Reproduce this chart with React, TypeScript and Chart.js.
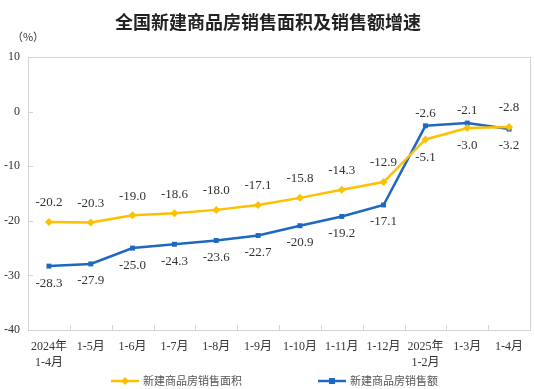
import { useEffect, useRef } from 'react';
import { Chart, registerables } from 'chart.js';

Chart.register(...registerables);

const TITLE = '全国新建商品房销售面积及销售额增速';
const UNIT = '（%）';
const CATEGORIES: (string | string[])[] = [
  ['2024年', '1-4月'], '1-5月', '1-6月', '1-7月', '1-8月', '1-9月',
  '1-10月', '1-11月', '1-12月', ['2025年', '1-2月'], '1-3月', '1-4月',
];
const AREA_NAME = '新建商品房销售面积';
const SALES_NAME = '新建商品房销售额';
const AREA = [-20.2, -20.3, -19.0, -18.6, -18.0, -17.1, -15.8, -14.3, -12.9, -5.1, -3.0, -2.8];
const SALES = [-28.3, -27.9, -25.0, -24.3, -23.6, -22.7, -20.9, -19.2, -17.1, -2.6, -2.1, -3.2];
const AREA_LABEL_SIDE = ['above', 'above', 'above', 'above', 'above', 'above', 'above', 'above', 'above', 'below', 'below', 'above'];
const SALES_LABEL_SIDE = ['below', 'below', 'below', 'below', 'below', 'below', 'below', 'below', 'below', 'above', 'above', 'below'];
const Y_MIN = -40;
const Y_MAX = 10;
const Y_STEP = 10;

const YELLOW = '#FFC000';
const BLUE = '#1F68C2';
const AXIS = '#d4d4d4';
const SERIF = '"Liberation Serif", "Times New Roman", "Noto Sans CJK SC", serif';
const CJK = '"Noto Sans CJK SC", sans-serif';

const decor = {
  id: 'decor',
  beforeDatasetsDraw(chart: any) {
    const { ctx, chartArea: a } = chart;
    ctx.save();
    ctx.strokeStyle = AXIS;
    ctx.lineWidth = 1;
    ctx.strokeRect(Math.round(a.left) + 0.5, Math.round(a.top) + 0.5, Math.round(a.right - a.left), Math.round(a.bottom - a.top));
    const y = chart.scales.y;
    for (let v = Y_MIN; v <= Y_MAX; v += Y_STEP) {
      const py = Math.round(y.getPixelForValue(v)) + 0.5;
      ctx.beginPath();
      ctx.moveTo(a.left, py);
      ctx.lineTo(a.left + 5, py);
      ctx.stroke();
    }
    const n = CATEGORIES.length;
    const w = (a.right - a.left) / n;
    for (let i = 1; i < n; i++) {
      const px = Math.round(a.left + i * w) + 0.5;
      ctx.beginPath();
      ctx.moveTo(px, a.bottom);
      ctx.lineTo(px, a.bottom - 5);
      ctx.stroke();
    }
    ctx.restore();
  },
  afterDraw(chart: any) {
    const { ctx } = chart;
    ctx.save();
    ctx.font = `13px ${SERIF}`;
    ctx.fillStyle = '#333';
    ctx.textAlign = 'center';
    ctx.textBaseline = 'middle';
    const sets = [
      { idx: 0, data: AREA, side: AREA_LABEL_SIDE, up: 19, down: 18 },
      { idx: 1, data: SALES, side: SALES_LABEL_SIDE, up: 12, down: 17 },
    ];
    sets.forEach((s) => {
      const meta = chart.getDatasetMeta(s.idx);
      meta.data.forEach((pt: any, i: number) => {
        const dy = s.side[i] === 'above' ? -s.up : s.down;
        ctx.fillText(s.data[i].toFixed(1), pt.x, pt.y + dy);
      });
    });
    ctx.font = `bold 18px ${CJK}`;
    ctx.fillStyle = '#222';
    ctx.fillText(TITLE, 268, 22);
    ctx.font = `11px ${CJK}`;
    ctx.fillStyle = '#333';
    ctx.fillText(UNIT, 28, 37);
    const items = [
      { x: 111, color: YELLOW, name: AREA_NAME, style: 'diamond' },
      { x: 318, color: BLUE, name: SALES_NAME, style: 'square' },
    ];
    const ly = 381;
    items.forEach((it) => {
      ctx.strokeStyle = it.color;
      ctx.fillStyle = it.color;
      ctx.lineWidth = 2.5;
      ctx.beginPath();
      ctx.moveTo(it.x, ly);
      ctx.lineTo(it.x + 28, ly);
      ctx.stroke();
      const cx = it.x + 14;
      ctx.beginPath();
      if (it.style === 'diamond') {
        ctx.moveTo(cx, ly - 4);
        ctx.lineTo(cx + 4, ly);
        ctx.lineTo(cx, ly + 4);
        ctx.lineTo(cx - 4, ly);
        ctx.closePath();
      } else {
        ctx.rect(cx - 3, ly - 3, 6, 6);
      }
      ctx.fill();
      ctx.font = `11px ${CJK}`;
      ctx.fillStyle = '#555';
      ctx.textAlign = 'left';
      ctx.fillText(it.name, it.x + 32, ly);
    });
    ctx.restore();
  },
};

export default function App() {
  const ref = useRef<HTMLCanvasElement>(null);
  useEffect(() => {
    const canvas = ref.current;
    if (!canvas) return;
    const chart = new Chart(canvas, {
      type: 'line',
      data: {
        labels: CATEGORIES as any,
        datasets: [
          {
            label: AREA_NAME,
            data: AREA,
            borderColor: YELLOW,
            backgroundColor: YELLOW,
            borderWidth: 2.5,
            pointStyle: 'rectRot',
            pointRadius: 4,
            pointBorderWidth: 0,
            tension: 0,
          },
          {
            label: SALES_NAME,
            data: SALES,
            borderColor: BLUE,
            backgroundColor: BLUE,
            borderWidth: 2.5,
            pointStyle: 'rect',
            pointRadius: 3.5,
            pointBorderWidth: 0,
            tension: 0,
          },
        ],
      },
      options: {
        responsive: false,
        animation: false,
        layout: { padding: { top: 57, right: 5, left: 0, bottom: 0 } },
        plugins: { legend: { display: false }, title: { display: false }, tooltip: { enabled: false } },
        scales: {
          x: {
            offset: true,
            grid: { display: false, drawTicks: false },
            border: { display: false },
            ticks: {
              autoSkip: false,
              maxRotation: 0,
              padding: 9,
              color: '#333',
              font: { family: SERIF, size: 12, lineHeight: 1.35 },
            },
            afterFit: (s: any) => { s.height = 59; },
          },
          y: {
            min: Y_MIN,
            max: Y_MAX,
            grid: { display: false, drawTicks: false },
            border: { display: false },
            ticks: {
              stepSize: Y_STEP,
              padding: 8,
              color: '#333',
              font: { family: SERIF, size: 12 },
            },
            afterFit: (s: any) => { s.width = 28; },
          },
        },
      },
      plugins: [decor],
    });
    return () => chart.destroy();
  }, []);
  return (
    <canvas
      ref={ref}
      width={535}
      height={389}
      style={{ position: 'absolute', left: 0, top: 0, display: 'block', background: '#fff' }}
    />
  );
}
